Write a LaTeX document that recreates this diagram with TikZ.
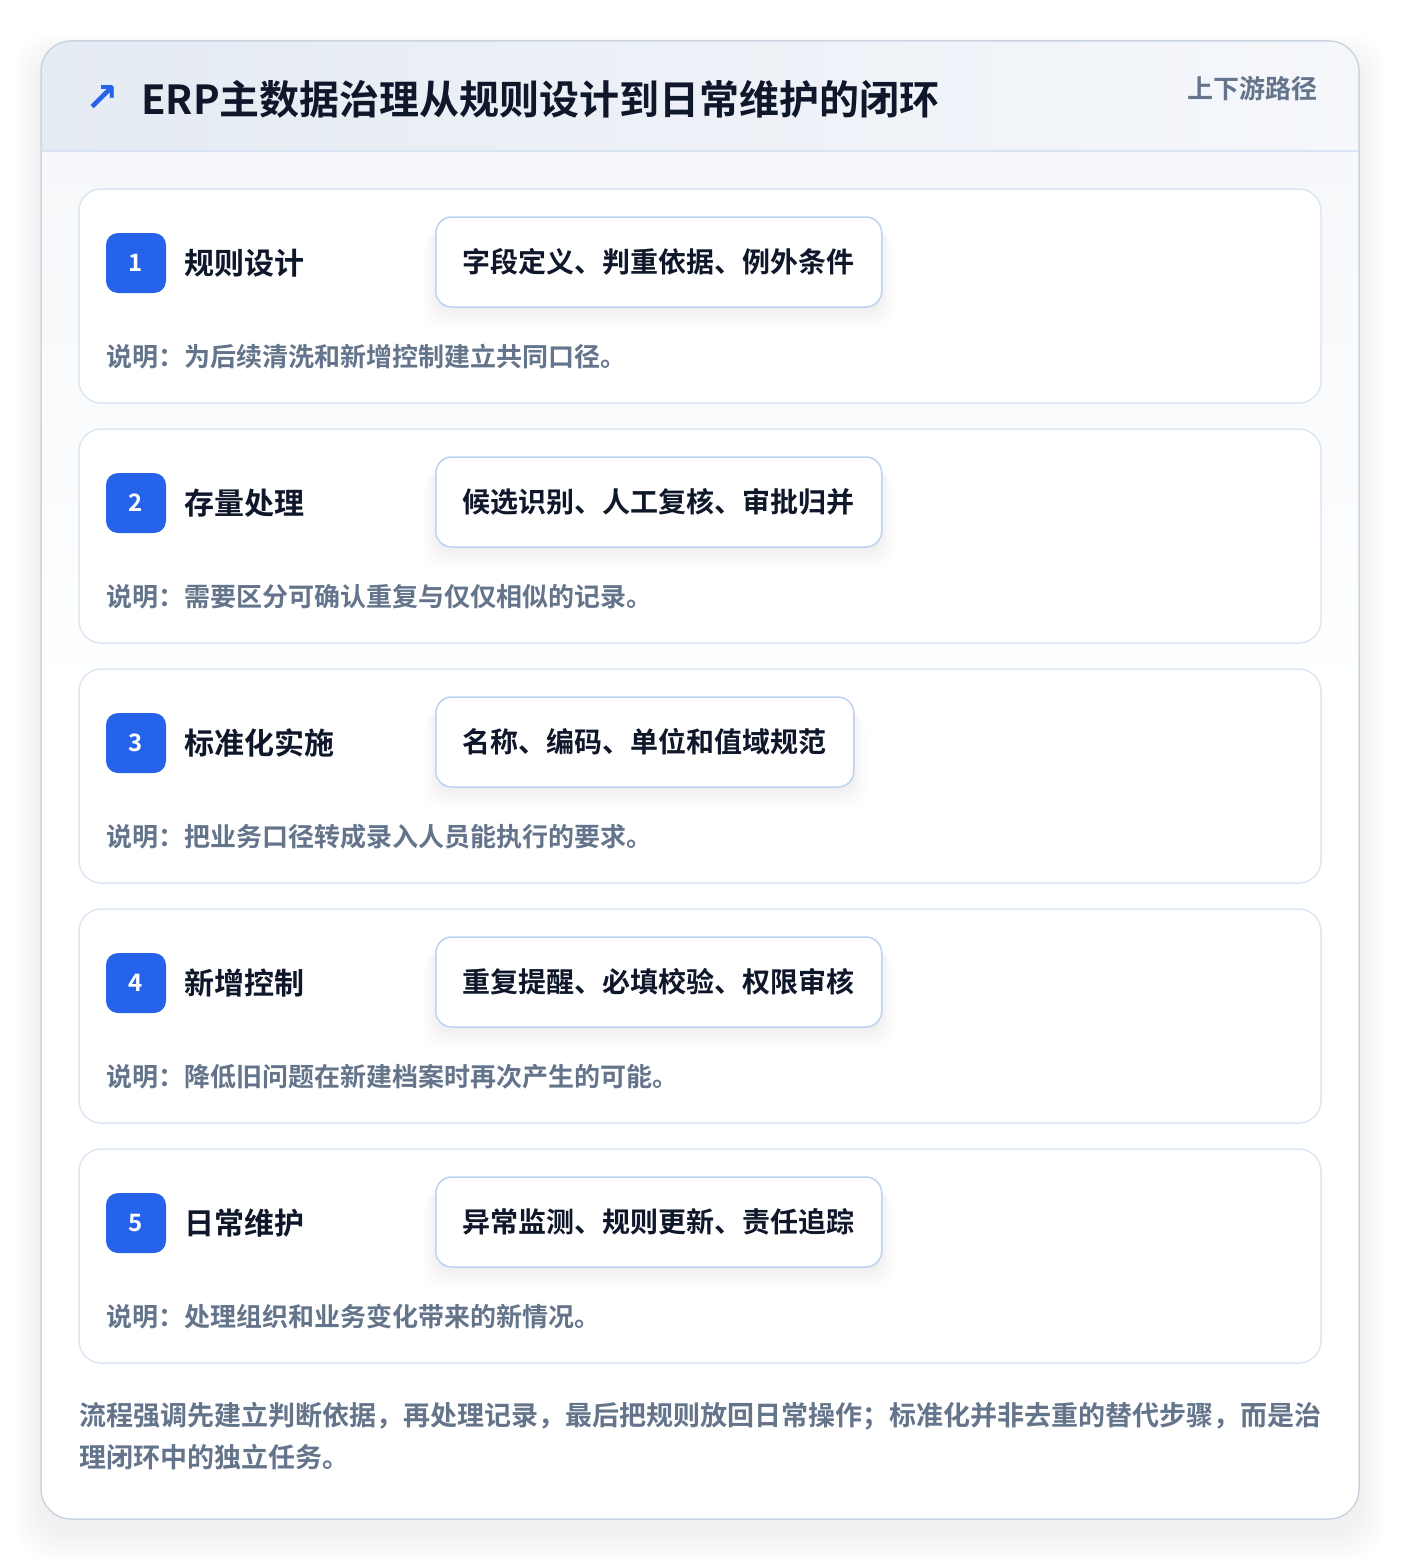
\documentclass[tikz,border=0pt]{standalone}
\usepackage{fontspec}
\setmainfont{Noto Sans CJK SC}[BoldFont={Noto Sans CJK SC Bold}]
\newfontfamily\symfont{DejaVu Sans}
\usetikzlibrary{positioning,shadows}
%
\definecolor{inkdark}{HTML}{0F172A}
\definecolor{slate}{HTML}{64748B}
\definecolor{badgeblue}{HTML}{2563EB}
\definecolor{frameline}{HTML}{CBD5E1}
\definecolor{cardline}{HTML}{DCE7F5}
\definecolor{pillline}{HTML}{BCD3F0}
\definecolor{headl}{HTML}{E5EBF3}
\definecolor{headr}{HTML}{F5F7FB}
\definecolor{headrule}{HTML}{D8E4F4}
\definecolor{bodytop}{HTML}{F6F8FB}
%
\newcommand\fsz[1]{\fontsize{#1}{#1}\selectfont}
%
\tikzset{
  stepcard/.style={draw=cardline, fill=white, line width=1.5pt, rounded corners=22pt,
    minimum width=1242pt, minimum height=214pt, inner sep=0pt},
  badge/.style={fill=badgeblue, rounded corners=12pt, minimum size=60pt, inner sep=0pt,
    text=white, font=\bfseries\fsz{24}},
  steptitle/.style={inner sep=0pt, text=inkdark, font=\bfseries\fsz{30}},
  softshade/.style={general shadow={shadow yshift=-#1, fill=black, opacity=0.011,
    shadow xshift=0pt, shadow scale=1.0}},
  tagpill/.style={draw=pillline, fill=white, line width=1.5pt, rounded corners=16pt,
    minimum height=90pt, inner xsep=27pt, text=inkdark, font=\bfseries\fsz{28},
    general shadow={shadow yshift=-3pt, fill=black, opacity=0.012, shadow scale=1.00},
    general shadow={shadow yshift=-6pt, fill=black, opacity=0.012, shadow scale=1.01},
    general shadow={shadow yshift=-9pt, fill=black, opacity=0.011, shadow scale=1.02},
    general shadow={shadow yshift=-12pt, fill=black, opacity=0.010, shadow scale=1.03},
    general shadow={shadow yshift=-15pt, fill=black, opacity=0.008, shadow scale=1.045},
    general shadow={shadow yshift=-18pt, fill=black, opacity=0.006, shadow scale=1.06}},
  stepnote/.style={inner sep=0pt, text=slate, font=\bfseries\fsz{26}},
}
%
\begin{document}
\begin{tikzpicture}[x=1pt, y=-1pt]
\useasboundingbox (0,0) rectangle (1400,1560);
\fill[white] (0,0) rectangle (1400,1560);
%
% soft shadow round the frame
\foreach \s in {1,...,14}
  \fill[black, opacity=0.005, rounded corners=34pt] (41-2*\s,41-1.5*\s+14) rectangle (1359+2*\s,1519+2*\s+14);
%
\fill[white, rounded corners=30pt] (41,41) rectangle (1359,1519);
\begin{scope}
  \clip[rounded corners=30pt] (41,41) rectangle (1359,1519);
  \shade[left color=headl, right color=headr] (41,41) rectangle (1359,151);
  \shade[top color=bodytop, bottom color=white] (41,151) rectangle (1359,700);
\end{scope}
\draw[headrule, line width=1.5pt] (41,151) -- (1359,151);
\draw[frameline, line width=1.5pt, rounded corners=30pt] (41,41) rectangle (1359,1519);
%
% header
\node[anchor=west, inner sep=0pt, text=inkdark, font=\bfseries\fsz{40}] (title) at (141,99)
  {ERP主数据治理从规则设计到日常维护的闭环};
\node[inner sep=0pt, text=badgeblue, font=\symfont\bfseries\fsz{40}] (icon) at (102,99) {↗};
\node[anchor=east, inner sep=0pt, text=slate, font=\bfseries\fsz{26}] (route) at (1318,89) {上下游路径};
%
% steps
\foreach \n/\ttl/\tags/\note [count=\k from 0] in {
  1/规则设计/字段定义、判重依据、例外条件/说明：为后续清洗和新增控制建立共同口径。,
  2/存量处理/候选识别、人工复核、审批归并/说明：需要区分可确认重复与仅仅相似的记录。,
  3/标准化实施/名称、编码、单位和值域规范/说明：把业务口径转成录入人员能执行的要求。,
  4/新增控制/重复提醒、必填校验、权限审核/说明：降低旧问题在新建档案时再次产生的可能。,
  5/日常维护/异常监测、规则更新、责任追踪/说明：处理组织和业务变化带来的新情况。}
{
  \pgfmathsetmacro\top{189+240*\k}
  \node[stepcard] (card\n) at (700,\top+107) {};
  \node[badge] (badge\n) at (136,\top+74) {\n};
  \node[steptitle, anchor=west, right=18pt of badge\n] (name\n) {\ttl};
  \node[tagpill, anchor=west] (tags\n) at (435,\top+73) {\tags};
  \node[stepnote, anchor=west] (note\n) at (106,\top+168) {\note};
}
%
% closing remark
\node[anchor=west, inner sep=0pt, align=left, text=slate, font=\bfseries\fontsize{27}{42}\selectfont] (summary) at (79,1436)
  {流程强调先建立判断依据，再处理记录，最后把规则放回日常操作；标准化并非去重的替代步骤，而是治\\理闭环中的独立任务。};
%
\end{tikzpicture}
\end{document}
